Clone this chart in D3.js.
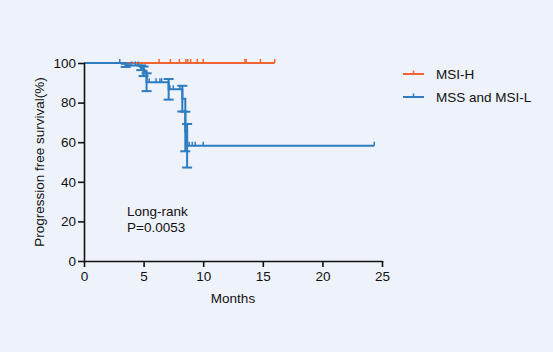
<!DOCTYPE html>
<html>
<head>
<meta charset="utf-8">
<script src="https://cdn.jsdelivr.net/npm/d3@7"></script>
<style>
  body { margin: 0; background: #eef2fa; }
  svg { display: block; }
  text { font-family: "Liberation Sans", Arial, sans-serif; fill: #111; }
</style>
</head>
<body>
<div id="chart"></div>
<script>
// MSI-H group: no events, censored times (months)
var msiEnd = 16.0;
var msiCensor = [6.3, 7.25, 8.0, 8.55, 8.7, 8.95, 9.5, 10.0, 13.5, 13.6, 14.8, 16.0];

// MSS and MSI-L group: event times, survival (%), standard error (%)
var mssTimes = [3.5, 4.8, 5.0, 5.25, 7.1, 8.25, 8.5, 8.65];
var mssSurv = [98.8, 97.6, 95.8, 90.3, 86.7, 82.0, 65.4, 58.2];
var mssErr = [0.8, 1.2, 2.4, 4.5, 5.2, 6.5, 10, 11];
var mssEnd = 24.35;
var mssCensor = [3.0, 4.0, 4.3, 4.55, 5.47, 6.04, 6.37, 6.51, 7.21, 7.49, 8.05, 8.83, 9.08, 9.33, 10.0, 24.35];

var xTicks = [0, 5, 10, 15, 20, 25];
var yTicks = [0, 20, 40, 60, 80, 100];

var width = 553, height = 352;
var margin = {left: 84, right: 171, top: 63, bottom: 91};

var svg = d3.select('#chart').append('svg')
    .attr('width', width)
    .attr('height', height);

var x = d3.scaleLinear().domain([0, 25]).range([margin.left, width - margin.right]);
var y = d3.scaleLinear().domain([0, 100]).range([height - margin.bottom, margin.top]);

var orange = '#ef6432', blue = '#2d7cc0';

// build a step path from event arrays
var stepPoints = function(times, surv, end){
  var pts = [[0, 100]];
  var level = 100;
  times.forEach(function(t, i){
    pts.push([t, level]);
    level = surv[i];
    pts.push([t, level]);
  });
  pts.push([end, level]);
  return pts;
};

// survival at time t
var levelAt = function(t, times, surv){
  var level = 100;
  times.forEach(function(e, i){ if (e <= t) level = surv[i]; });
  return level;
};

var line = d3.line()
  .x(function(d){ return x(d[0]); })
  .y(function(d){ return y(d[1]); });

var drawGroup = function(color, pts, times, surv, err, censor){
  var g = svg.append('g');
  g.append('path')
    .datum(pts)
    .attr('d', line)
    .attr('fill', 'none')
    .attr('stroke', color)
    .attr('stroke-width', 2);

  // error bars
  times.forEach(function(t, i){
    var cx = x(t);
    var y1 = y(surv[i] + err[i]), y2 = y(surv[i] - err[i]);
    g.append('line').attr('x1', cx).attr('x2', cx).attr('y1', y1).attr('y2', y2)
      .attr('stroke', color).attr('stroke-width', 2);
    [y1, y2].forEach(function(yy){
      g.append('line').attr('x1', cx - 5).attr('x2', cx + 5).attr('y1', yy).attr('y2', yy)
        .attr('stroke', color).attr('stroke-width', 2);
    });
  });

  // censor ticks
  g.selectAll('.cens')
    .data(censor)
    .enter().append('line')
      .attr('x1', function(d){ return x(d); })
      .attr('x2', function(d){ return x(d); })
      .attr('y1', function(d){ return y(levelAt(d, times, surv)); })
      .attr('y2', function(d){ return y(levelAt(d, times, surv)) - 4; })
      .attr('stroke', color)
      .attr('stroke-width', 1.5);
};

// orange underneath, blue on top
drawGroup(orange, [[0, 100], [msiEnd, 100]], [], [], [], msiCensor);
drawGroup(blue, stepPoints(mssTimes, mssSurv, mssEnd), mssTimes, mssSurv, mssErr, mssCensor);

// axes
var xAxis = svg.append('g')
  .attr('transform', 'translate(0,' + y(0) + ')')
  .call(d3.axisBottom(x).tickValues(xTicks).tickSize(6).tickPadding(4));
var yAxis = svg.append('g')
  .attr('transform', 'translate(' + x(0) + ',0)')
  .call(d3.axisLeft(y).tickValues(yTicks).tickSize(6).tickPadding(2));

[xAxis, yAxis].forEach(function(a){
  a.select('.domain').attr('stroke', '#111').attr('stroke-width', 1.6)
    .attr('d', function(){ return d3.select(this).attr('d').replace(/M(-?[\d.]+),6V/, 'M$1,0V').replace(/M-6,/, 'M0,').replace(/V6$/, 'V0').replace(/H-6$/, 'H0'); });
  a.selectAll('.tick line').attr('stroke', '#111').attr('stroke-width', 1.6);
  a.selectAll('.tick text').style('font-size', '13.5px').style('font-family', '"Liberation Sans", Arial, sans-serif').attr('fill', '#111');
});

// axis titles
svg.append('text')
  .attr('x', x(12.5)).attr('y', 303)
  .attr('text-anchor', 'middle')
  .style('font-size', '13.5px')
  .text('Months');

svg.append('text')
  .attr('transform', 'translate(44,' + y(50) + ') rotate(-90)')
  .attr('text-anchor', 'middle')
  .style('font-size', '13.5px')
  .text('Progression free survival(%)');

// annotation
svg.append('text').attr('x', 127).attr('y', 216).style('font-size', '13.5px').text('Long-rank');
svg.append('text').attr('x', 127).attr('y', 232).style('font-size', '13.5px').text('P=0.0053');

// legend
var legend = [{name: 'MSI-H', color: orange}, {name: 'MSS and MSI-L', color: blue}];
var lg = svg.selectAll('.legend')
  .data(legend)
  .enter().append('g')
    .attr('transform', function(d, i){ return 'translate(403,' + (74 + i * 23) + ')'; });
lg.append('line').attr('x1', 0).attr('x2', 21).attr('y1', 0).attr('y2', 0)
  .attr('stroke', function(d){ return d.color; }).attr('stroke-width', 2);
lg.append('line').attr('x1', 10.5).attr('x2', 10.5).attr('y1', 0).attr('y2', -3.5)
  .attr('stroke', function(d){ return d.color; }).attr('stroke-width', 1.5);
lg.append('text').attr('x', 33).attr('y', 5)
  .style('font-size', '13.5px')
  .text(function(d){ return d.name; });
</script>
</body>
</html>
